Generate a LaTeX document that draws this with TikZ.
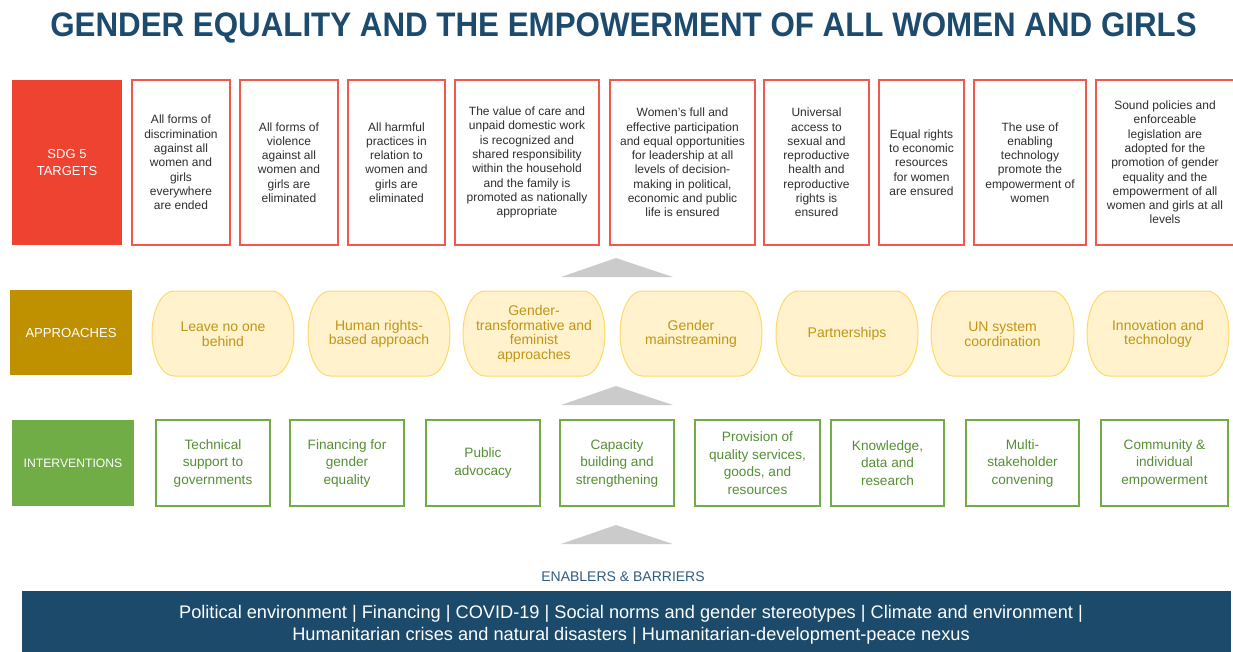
\documentclass[tikz,border=0pt]{standalone}
\usepackage{fontspec}
\setmainfont{Liberation Sans}
\definecolor{titleblue}{HTML}{1D4B6E}
\definecolor{sdgred}{HTML}{EE4331}
\definecolor{tgtborder}{HTML}{F2584B}
\definecolor{tgttext}{HTML}{2E2E2E}
\definecolor{apgold}{HTML}{BF9000}
\definecolor{pillfill}{HTML}{FFF2CC}
\definecolor{pillborder}{HTML}{FFD966}
\definecolor{pilltext}{HTML}{C09517}
\definecolor{intgreen}{HTML}{70AD47}
\definecolor{inttext}{HTML}{558F35}
\definecolor{trigray}{HTML}{CBCBCB}
\definecolor{barblue}{HTML}{1B4A6B}
\definecolor{enabtext}{HTML}{2F5D82}
\tikzset{
  lab/.style={anchor=north west, inner sep=0pt, outer sep=0pt, text=white, align=center},
  target/.style={anchor=north west, draw=tgtborder, line width=1.5pt, fill=white, inner sep=0pt, outer sep=0pt,
    minimum height=165pt, align=center, text=tgttext, font=\fontsize{12}{14.3}\selectfont},
  pillshape/.style={draw=pillborder, fill=pillfill, line width=1pt},
  pilltxt/.style={inner sep=0pt, align=center, text=pilltext, font=\fontsize{14}{14.6}\selectfont},
  interv/.style={anchor=north west, draw=intgreen, line width=1.3pt, fill=white, inner sep=0pt, outer sep=0pt,
    minimum height=86pt, align=center, text=inttext, font=\fontsize{13.6}{17.5}\selectfont},
  tri/.style={fill=trigray, draw=none}
}
\newcommand\pill[4]{%
  \filldraw[pillshape] ({#2+22},291) -- ({#3-22},291)
    arc[start angle=90, end angle=-90, x radius=22pt, y radius=42.5pt]
    -- ({#2+22},376)
    arc[start angle=270, end angle=90, x radius=22pt, y radius=42.5pt] -- cycle;
  \node[pilltxt] (#1) at ({(#2+#3)/2},334) {#4};
}
\begin{document}
\begin{tikzpicture}[x=1pt, y=-1pt]
\useasboundingbox[fill=white] (0,0) rectangle (1233,651);

% title
\node[text=titleblue, font=\fontsize{34}{40}\selectfont\bfseries, inner sep=0pt] (title) at (623.5,28)
  {\scalebox{0.921}[1]{GENDER EQUALITY AND THE EMPOWERMENT OF ALL WOMEN AND GIRLS}};

% row labels
\node[lab, fill=sdgred, minimum width=110pt, minimum height=165pt, font=\fontsize{13}{17}\selectfont] (sdg) at (12,80) {SDG 5\\TARGETS};
\node[lab, fill=apgold, minimum width=122pt, minimum height=85pt, font=\fontsize{13.1}{16}\selectfont] (appr) at (10,290) {APPROACHES};
\node[lab, fill=intgreen, minimum width=122pt, minimum height=86pt, font=\fontsize{12.2}{16}\selectfont] (intv) at (12,420) {INTERVENTIONS};

% targets
\node[target, minimum width=98pt] (t1) at (132,80) {All forms of\\discrimination\\against all\\women and\\girls\\everywhere\\are ended};
\node[target, minimum width=98pt] (t2) at (240,80) {All forms of\\violence\\against all\\women and\\girls are\\eliminated};
\node[target, minimum width=97pt] (t3) at (348,80) {All harmful\\practices in\\relation to\\women and\\girls are\\eliminated};
\node[target, minimum width=144pt] (t4) at (455,80) {The value of care and\\unpaid domestic work\\is recognized and\\shared responsibility\\within the household\\and the family is\\promoted as nationally\\appropriate};
\node[target, minimum width=145pt] (t5) at (610,80) {Women’s full and\\effective participation\\and equal opportunities\\for leadership at all\\levels of decision-\\making in political,\\economic and public\\life is ensured};
\node[target, minimum width=105pt] (t6) at (764,80) {Universal\\access to\\sexual and\\reproductive\\health and\\reproductive\\rights is\\ensured};
\node[target, minimum width=85pt] (t7) at (879,80) {Equal rights\\to economic\\resources\\for women\\are ensured};
\node[target, minimum width=112pt] (t8) at (974,80) {The use of\\enabling\\technology\\promote the\\empowerment of\\women};
\node[target, minimum width=138pt] (t9) at (1096,80) {Sound policies and\\enforceable\\legislation are\\adopted for the\\promotion of gender\\equality and the\\empowerment of all\\women and girls at all\\levels};

% triangles
\fill[tri] (561,277) -- (616,258) -- (673,277) -- cycle;
\fill[tri] (561,405) -- (616,386) -- (673,405) -- cycle;
\fill[tri] (561,544) -- (616,525) -- (673,544) -- cycle;

% approaches
\pill{a1}{152}{294}{Leave no one\\behind}
\pill{a2}{308}{450}{Human rights-\\based approach}
\pill{a3}{463}{605}{Gender-\\transformative and\\feminist\\approaches}
\pill{a4}{620}{762}{Gender\\mainstreaming}
\pill{a5}{776}{918}{Partnerships}
\pill{a6}{931}{1074}{UN system\\coordination}
\pill{a7}{1087}{1229}{Innovation and\\technology}

% interventions
\node[interv, minimum width=114pt] (i1) at (156,420) {Technical\\support to\\governments};
\node[interv, minimum width=114pt] (i2) at (290,420) {Financing for\\gender\\equality};
\node[interv, minimum width=114pt] (i3) at (426,420) {Public\\advocacy};
\node[interv, minimum width=114pt] (i4) at (560,420) {Capacity\\building and\\strengthening};
\node[interv, minimum width=125pt] (i5) at (695,420) {Provision of\\quality services,\\goods, and\\resources};
\node[interv, minimum width=113pt] (i6) at (831,420) {Knowledge,\\data and\\research};
\node[interv, minimum width=113pt] (i7) at (966,420) {Multi-\\stakeholder\\convening};
\node[interv, minimum width=127pt] (i8) at (1101,420) {Community \&\\individual\\empowerment};

% enablers
\node[text=enabtext, font=\fontsize{14}{16}\selectfont, inner sep=0pt] (enab) at (623,577) {ENABLERS \& BARRIERS};
\node[lab, fill=barblue, minimum width=1209pt, minimum height=62pt] (bar) at (22,591) {};
\node[text=white, align=center, inner sep=0pt, font=\fontsize{18.2}{22}\selectfont] (bartext) at (631,624.5)
  {Political environment | Financing | COVID-19 | Social norms and gender stereotypes | Climate and environment |\\
   Humanitarian crises and natural disasters | Humanitarian-development-peace nexus};
\end{tikzpicture}
\end{document}
